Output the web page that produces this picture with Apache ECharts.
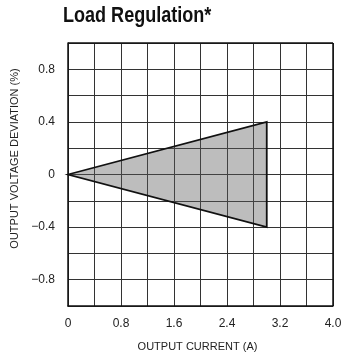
<!DOCTYPE html>
<html><head><meta charset="utf-8">
<script src="https://cdn.jsdelivr.net/npm/echarts@6/dist/echarts.min.js"></script>
<style>html,body{margin:0;padding:0;background:#fff}#c{width:344px;height:361px}</style>
</head><body><div id="c"></div>
<script>
var title = 'Load Regulation*';
var xName = 'OUTPUT CURRENT (A)';
var yName = 'OUTPUT VOLTAGE DEVIATION (%)';
var regionX = [0, 3.0, 3.0];
var regionY = [0, 0.4, -0.4];
var xTicks = [0, 0.8, 1.6, 2.4, 3.2, 4.0];
var yTicks = [-0.8, -0.4, 0, 0.4, 0.8];

var chart = echarts.init(document.getElementById('c'), null, {renderer: 'canvas'});
var sans = '"Liberation Sans", Arial, sans-serif';
function fmtY(v){
  var r = Math.round(v*10)/10;
  if (yTicks.indexOf(r) < 0) return '';
  if (r === 0) return '0';
  return (r < 0 ? '\u2212' : '') + Math.abs(r).toFixed(1);
}
function fmtX(v){
  var r = Math.round(v*10)/10;
  if (xTicks.indexOf(r) < 0) return '';
  if (r === 0) return '0';
  return r.toFixed(1);
}
chart.setOption({
  animation: false,
  graphic: [{type: 'text', left: 63, top: 5, scaleX: 0.82,
    style: {text: title, font: 'bold 22px ' + sans, fill: '#111'}}],
  grid: {left: 68, right: 11, top: 43, bottom: 55, containLabel: false, outerBoundsMode: 'none'},
  xAxis: {type: 'value', min: 0, max: 4.0, interval: 0.4,
    name: xName, nameLocation: 'middle', nameGap: 35,
    nameTextStyle: {fontFamily: sans, fontSize: 11, color: '#222', padding: [0, 6, 0, 0]},
    axisLine: {show: true, onZero: false, lineStyle: {color: '#111', width: 1.5}},
    axisTick: {show: false},
    axisLabel: {formatter: fmtX, margin: 12, fontFamily: sans, fontSize: 12, color: '#222', showMaxLabel: true, showMinLabel: true},
    splitLine: {show: true, lineStyle: {color: '#333', width: 1}}
  },
  yAxis: {type: 'value', min: -1.0, max: 1.0, interval: 0.2,
    name: yName, nameLocation: 'middle', nameGap: 46, nameRotate: 90,
    nameTextStyle: {fontFamily: sans, fontSize: 11, color: '#222', padding: [0, 0, 0, 32]},
    axisLine: {show: true, onZero: false, lineStyle: {color: '#111', width: 1.5}},
    axisTick: {show: false},
    axisLabel: {formatter: fmtY, margin: 13, fontFamily: sans, fontSize: 12, color: '#222'},
    splitLine: {show: true, lineStyle: {color: '#333', width: 1}}
  },
  series: [{
    type: 'custom',
    data: [0],
    renderItem: function(params, api){
      var pts = regionX.map(function(x, i){ return api.coord([x, regionY[i]]); });
      return {type: 'polygon', shape: {points: pts},
        style: {fill: 'rgba(90,90,90,0.4)', stroke: '#111', lineWidth: 1.8}};
    }
  }, {
    type: 'line', data: [], markLine: {silent: true, symbol: 'none', label: {show: false},
      lineStyle: {color: '#111', width: 1.5, type: 'solid'},
      data: [{xAxis: 4.0}, {yAxis: 1.0}]}
  }]
});
</script></body></html>
